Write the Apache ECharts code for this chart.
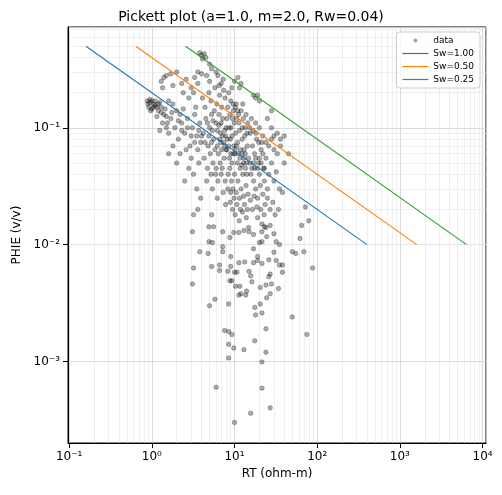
<!DOCTYPE html>
<html><head><meta charset="utf-8">
<script src="https://cdn.jsdelivr.net/npm/echarts@6/dist/echarts.min.js"></script>
<style>html,body{margin:0;padding:0;background:#fff}#c{width:502px;height:495px}</style>
</head><body><div id="c"></div>
<script>
// Data points (RT, PHIE)
const dataPoints = [
[3.8,0.44],[4.0,0.42],[4.3,0.43],[4.5,0.40],[4.1,0.39],[5,0.35],[5.3,0.32],[3.6,0.30],[4,0.29],[4.6,0.28],
[10,0.25],[11,0.27],[12,0.24],[11.5,0.22],[17,0.19],[18,0.18],[19,0.19],[20,0.17],
[0.88,0.17],[0.9,0.16],[0.92,0.15],[0.95,0.175],[1.0,0.17],[1.05,0.16],[1.1,0.155],[1.0,0.145],[1.15,0.15],[1.2,0.14],[1.3,0.135],[1.25,0.165],[1.4,0.13],[1.5,0.125],[0.97,0.14],[1.6,0.17],[1.8,0.16],[1.7,0.12],[2.0,0.14],[2.2,0.13],[1.35,0.11],[1.5,0.1],[1.25,0.095],[1.6,0.09],[1.9,0.1],
[1.3,0.25],[1.4,0.27],[1.5,0.28],[1.7,0.29],[2.0,0.3],[1.35,0.22],[1.8,0.23],[2.3,0.24],[2.6,0.26],[3.0,0.22],[2.4,0.2],[3.3,0.27],[3.6,0.24],[2.8,0.18],[3.2,0.2],
[2.1,0.08],[2.3,0.11],[2.5,0.09],[2.7,0.12],[2.9,0.07],[3.1,0.1],[3.3,0.13],[3.5,0.085],[3.8,0.11],[2.2,0.06],[2.6,0.065],[3.0,0.055],[3.6,0.065],[3.9,0.075],[2.4,0.145],[3.4,0.15],[2.0,0.05],[1.8,0.07],[1.6,0.06],[2.8,0.045],[3.2,0.04],[3.7,0.05],[2.5,0.035],[3.5,0.03],[3.9,0.025],[3.6,0.02],
[4.2,0.09],[4.5,0.12],[4.8,0.07],[5.0,0.1],[5.3,0.13],[5.6,0.08],[6.0,0.11],[6.4,0.06],[6.8,0.09],[7.2,0.12],[7.6,0.07],[4.3,0.055],[4.7,0.045],[5.1,0.06],[5.5,0.05],[5.9,0.04],[6.3,0.035],[6.7,0.05],[7.1,0.045],[7.5,0.055],[7.9,0.065],[4.4,0.15],[5.2,0.17],[6.1,0.16],[6.6,0.19],[7.0,0.15],[7.7,0.18],[4.9,0.2],[5.8,0.22],[6.9,0.24],[7.4,0.21],[5.4,0.03],[6.2,0.025],[7.3,0.028],[7.8,0.022],[4.6,0.035],[5.7,0.14],[6.5,0.13],[7.9,0.1],[4.1,0.18],[5.0,0.25],[6.0,0.3],[6.3,0.28],[7.2,0.085],[5.4,0.095],[6.8,0.075],[4.7,0.11],[6.5,0.105],
[8.2,0.08],[8.6,0.1],[9.0,0.06],[9.4,0.12],[9.8,0.07],[10.3,0.09],[10.8,0.05],[11.3,0.11],[11.8,0.065],[12.4,0.08],[13,0.055],[13.6,0.045],[14.3,0.07],[8.4,0.04],[8.8,0.045],[9.2,0.035],[9.6,0.03],[10,0.04],[10.5,0.028],[11,0.035],[11.5,0.025],[12,0.03],[12.6,0.04],[13.2,0.022],[13.8,0.032],[14.6,0.027],[8.3,0.15],[9,0.17],[9.7,0.14],[10.5,0.16],[11.2,0.13],[12,0.14],[12.8,0.12],[13.5,0.1],[14.2,0.09],[8.7,0.055],[9.3,0.05],[10.1,0.06],[10.9,0.075],[11.6,0.055],[12.2,0.048],[13.1,0.065],[14,0.05],[9.5,0.02],[10.2,0.018],[11.4,0.016],[12.5,0.019],[13.9,0.017],[8.9,0.023],[14.8,0.014],
[15.5,0.09],[16.5,0.07],[17.5,0.06],[18.5,0.08],[19.5,0.05],[21,0.065],[22.5,0.045],[24,0.055],[26,0.04],[28,0.05],[30,0.035],[32,0.042],[35,0.03],[38,0.028],[15.8,0.04],[17,0.035],[18,0.03],[19,0.025],[20.5,0.032],[22,0.027],[23.5,0.022],[25,0.025],[27,0.02],[29,0.023],[31,0.018],[34,0.02],[16,0.12],[18,0.11],[20,0.1],[22,0.085],[24,0.075],[26,0.07],[28,0.08],[30,0.065],[33,0.06],[36,0.07],[40,0.05],[45,0.06],[16.5,0.02],[19,0.017],[21.5,0.015],[24,0.014],[17.5,0.045],[20,0.04],[23,0.035],[25,0.03],
[30,0.085],[33,0.09],[36,0.08],[40,0.085],[28,0.1],[28,0.14],[25,0.12],
[3.1,0.0129],[3.2,0.0063],[3.1,0.0046],[5.0,0.003],[5.8,0.0034],[8.5,0.0031],[7.6,0.00184],[8.5,0.0018],[9.3,0.0017],[8.5,0.0014],[9.8,0.0013],[8.5,0.00107],[13,0.00126],[17.6,0.0015],[24,0.0019],[21.5,0.0026],[18,0.0025],[17.6,0.0029],[20.5,0.0031],[21.5,0.00099],[24,0.0012],[6,0.0006],[21.5,0.00059],[27,0.0004],[15.7,0.00036],[10,0.0003],[50,0.0024],[75,0.0017],[88,0.0063],[50,0.0087],[55,0.0084],[69,0.0087],[62,0.0113],[65,0.0146],[79,0.016],[72,0.021],
[3.8,0.0087],[4.8,0.0084],[4.9,0.0106],[5.4,0.0104],[5.3,0.0065],[6.6,0.0067],[6.6,0.006],[7.2,0.0096],[7.2,0.0087],[8.3,0.0059],[9.0,0.0065],[9.0,0.0079],[8.8,0.0049],[9.3,0.0049],[10,0.0058],[10.7,0.0058],[10.3,0.0044],[11.6,0.0044],[11.3,0.0037],[12,0.0038],[13.7,0.0037],[14,0.004],[15,0.0059],[15.7,0.0054],[16.2,0.0048],[11.3,0.007],[13.3,0.0071],[17,0.007],[19,0.0073],[21.5,0.0069],[20.5,0.0043],[24,0.0045],[26,0.0053],[27,0.0056],[28,0.0046],[24.5,0.0035],[27,0.0038],[34,0.0042],[32,0.0073],[35,0.0067],[38,0.0067],[38,0.0058],[30,0.0086],[26,0.0074],[19,0.0079],[17,0.0092],[20,0.0104],[21.5,0.0106],[24.5,0.0117],[32,0.0106],[35,0.01],[30,0.0124],[27,0.0146],[23,0.0142],[21.5,0.0129],[17,0.0122],[15,0.0129],[13,0.0132],[11.3,0.0127],[9.8,0.0127],[8.8,0.0115],[7.2,0.0129],[4.9,0.0142],[5.6,0.0142],[5.3,0.018],[3.2,0.018],
[0.95,0.165],[1.05,0.15],[1.1,0.17],[1.2,0.16],[1.3,0.15],[1.45,0.145],[1.15,0.125],[1.55,0.11],[1.75,0.135],[2.1,0.115],
[2.3,0.095],[2.7,0.1],[3.0,0.085],[3.3,0.075],[3.7,0.095],[4.0,0.085],[4.4,0.075],[4.9,0.085],[5.3,0.075],[5.8,0.065],[6.2,0.07],[6.6,0.08],[7.0,0.065],[7.4,0.075],[7.8,0.085],
[8.1,0.065],[8.5,0.07],[8.9,0.08],[9.3,0.085],[9.7,0.06],[10.2,0.065],[10.6,0.07],[11.1,0.06],[11.7,0.045],[12.3,0.06],[12.9,0.05],[13.5,0.06],[14.1,0.04],[14.8,0.055],[15.4,0.05],[16.2,0.045],[17,0.05],[18,0.055],[19,0.045],[20,0.055],[21,0.05],[22,0.06],[23,0.045],
[9.1,0.1],[9.9,0.11],[10.6,0.12],[11.5,0.095],[12.4,0.1],[13.3,0.085],[14.5,0.11],[15.3,0.1],[16.8,0.095],[18.2,0.09],[19.6,0.075],[21.4,0.075],
[5.2,0.04],[6.0,0.045],[6.9,0.04],[7.7,0.035],[8.3,0.03],[9.0,0.028],[9.9,0.025],[10.7,0.022],[11.8,0.02],[12.9,0.026],[14.3,0.02],[15.6,0.024],[17.3,0.026],[18.7,0.021],[20.8,0.02],[22.8,0.018],
[5.5,0.115],[6.2,0.095],[6.9,0.11],[7.6,0.095],[8.1,0.12],[8.8,0.13],[9.6,0.16],[10.2,0.15],[10.9,0.14],[12.6,0.16],[13.8,0.13],[8.5,0.2],[9.3,0.22],[6.5,0.23],[7.3,0.26]
];
// Sw lines (endpoints, RT vs PHIE)
const sw100 = [[0.16,0.5],[400,0.01]];
const sw050 = [[0.64,0.5],[1600,0.01]];
const sw025 = [[2.56,0.5],[6400,0.01]];
const xMinorTicks = [], yMinorTicks = [];
for (let e=-2;e<=4;e++) for (let m=2;m<=9;m++) xMinorTicks.push(m*Math.pow(10,e));
for (let e=-4;e<=0;e++) for (let m=2;m<=9;m++) yMinorTicks.push(m*Math.pow(10,e));
const sup = {'-':'⁻','0':'⁰','1':'¹','2':'²','3':'³','4':'⁴'};
function fmt(v){const l=Math.log10(v),e=Math.round(l);if(Math.abs(l-e)>0.01)return '';return '10'+String(e).split('').map(c=>sup[c]).join('');}
const XMIN=0.097, XMAX=11000, YMIN=0.0002, YMAX=0.73;
const LINE_ICON='path://M0,0L26,0L26,1.2L0,1.2Z';
const chart = echarts.init(document.getElementById('c'));
const axisCommon = {type:'log',logBase:10,
  axisLine:{onZero:false,lineStyle:{color:'#000'}},axisTick:{lineStyle:{color:'#000'}},
  axisLabel:{color:'#000',fontSize:12,formatter:fmt,fontFamily:'DejaVu Sans',showMinLabel:false,showMaxLabel:false},
  splitLine:{show:true,lineStyle:{color:'#d0d0d0',width:0.8}},
  nameLocation:'middle',nameTextStyle:{color:'#000',fontSize:12,fontFamily:'DejaVu Sans'}};
chart.setOption({
  animation:false,
  title:{text:'Pickett plot (a=1.0, m=2.0, Rw=0.04)',left:'center',top:5,textStyle:{fontSize:14,fontWeight:'normal',color:'#000',fontFamily:'DejaVu Sans'}},
  grid:{left:68,right:16,top:27,bottom:52,show:true,borderColor:'#000',borderWidth:1},
  legend:{right:22,top:32,orient:'vertical',itemWidth:26,itemHeight:8,itemGap:4,
    backgroundColor:'rgba(255,255,255,0.8)',borderColor:'#ccc',borderWidth:1,borderRadius:3,padding:[4,6],
    textStyle:{fontSize:9,color:'#000',fontFamily:'DejaVu Sans'},
    data:[
      {name:'data',icon:'path://M0,0L0.01,0M26,8L26.01,8M11,4a2,2 0 1,0 4,0a2,2 0 1,0 -4,0',itemStyle:{color:'rgba(0,0,0,0.45)',borderWidth:0}},
      {name:'Sw=1.00',icon:LINE_ICON,itemStyle:{color:'#1f77b4',borderWidth:0}},
      {name:'Sw=0.50',icon:LINE_ICON,itemStyle:{color:'#ff7f0e',borderWidth:0}},
      {name:'Sw=0.25',icon:LINE_ICON,itemStyle:{color:'#2ca02c',borderWidth:0}}]},
  xAxis:Object.assign({},axisCommon,{min:XMIN,max:XMAX,name:'RT (ohm-m)',nameGap:24}),
  yAxis:Object.assign({},axisCommon,{min:YMIN,max:YMAX,name:'PHIE (v/v)',nameGap:44}),
  series:[
    {name:'grid',type:'line',data:[],silent:true,z:0,
     markLine:{silent:true,z:0,symbol:'none',label:{show:false},lineStyle:{color:'#e4e4e4',width:0.6,type:'solid'},
       data:xMinorTicks.filter(v=>v>XMIN&&v<XMAX).map(v=>({xAxis:v})).concat(yMinorTicks.filter(v=>v>YMIN&&v<YMAX).map(v=>({yAxis:v})))}},
    {name:'data',type:'scatter',z:3,data:dataPoints,symbolSize:4.5,itemStyle:{color:'rgba(0,0,0,0.4)',borderColor:'rgba(0,0,0,0.55)',borderWidth:0.6}},
    {name:'Sw=1.00',type:'line',z:5,data:sw100,showSymbol:false,lineStyle:{color:'#1f77b4',width:1.1},itemStyle:{color:'#1f77b4'}},
    {name:'Sw=0.50',type:'line',z:5,data:sw050,showSymbol:false,lineStyle:{color:'#ff7f0e',width:1.1},itemStyle:{color:'#ff7f0e'}},
    {name:'Sw=0.25',type:'line',z:5,data:sw025,showSymbol:false,lineStyle:{color:'#2ca02c',width:1.1},itemStyle:{color:'#2ca02c'}}
  ]
});
</script></body></html>
